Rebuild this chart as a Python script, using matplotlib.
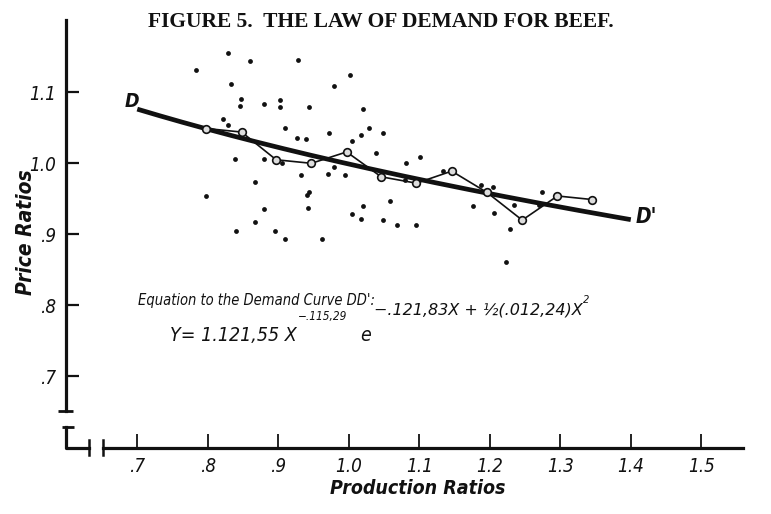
import numpy as np
import matplotlib
matplotlib.use('Agg')
import matplotlib.pyplot as plt

# yearly observations (production ratio, price ratio)
production = [0.829, 0.860, 0.928, 0.783, 1.002, 0.833, 0.979, 0.847, 0.846, 0.880,
              0.903, 0.903, 0.944, 1.020, 0.822, 0.829, 0.909, 1.028, 1.049, 0.972,
              1.018, 0.927, 0.940, 1.004, 1.038, 0.839, 0.880, 0.905, 0.932, 0.971,
              0.994, 0.979, 0.867, 0.797, 0.944, 0.941, 1.059, 1.020, 0.880, 0.942,
              1.004, 1.018, 1.048, 1.068, 0.867, 0.840, 0.895, 0.910, 0.962, 1.081,
              1.101, 1.080, 1.133, 1.188, 1.204, 1.096, 1.176, 1.206, 1.235, 1.274,
              1.270, 1.228, 1.223]
price = [1.156, 1.144, 1.146, 1.132, 1.124, 1.111, 1.109, 1.090, 1.081, 1.083,
         1.089, 1.079, 1.079, 1.077, 1.062, 1.054, 1.050, 1.050, 1.043, 1.042,
         1.040, 1.036, 1.034, 1.032, 1.015, 1.006, 1.006, 1.001, 0.983, 0.985,
         0.984, 0.995, 0.974, 0.954, 0.959, 0.956, 0.947, 0.940, 0.936, 0.937,
         0.929, 0.922, 0.920, 0.913, 0.918, 0.905, 0.905, 0.894, 0.893, 1.001,
         1.009, 0.976, 0.989, 0.969, 0.966, 0.913, 0.940, 0.930, 0.941, 0.959,
         0.941, 0.908, 0.861]

# averages joined by the thin broken line
avg_production = [0.798, 0.848, 0.897, 0.947, 0.997, 1.046, 1.096, 1.146, 1.196, 1.246, 1.296, 1.345]
avg_price = [1.049, 1.044, 1.005, 1.000, 1.016, 0.981, 0.972, 0.989, 0.959, 0.920, 0.954, 0.949]

# Demand curve DD': Y = a X^b e^(c X + 1/2 d X^2), coefficients as printed
coef_a = 1.12155
coef_b = -0.11529
coef_c = -0.12183
coef_d = 0.01224
curve_start, curve_end = 0.70, 1.40

x_ticks = [0.7, 0.8, 0.9, 1.0, 1.1, 1.2, 1.3, 1.4, 1.5]
x_tick_labels = ['.7', '.8', '.9', '1.0', '1.1', '1.2', '1.3', '1.4', '1.5']
y_ticks = [0.7, 0.8, 0.9, 1.0, 1.1]
y_tick_labels = ['.7', '.8', '.9', '1.0', '1.1']

plt.rcParams['font.family'] = ['DejaVu Sans']
ink = '#111111'
hand = dict(fontstyle='italic', fontstretch='condensed', color=ink)

fig = plt.figure(figsize=(7.71, 5.14), dpi=100)
ax = fig.add_axes([0, 0, 1, 1])
ax.set_xlim(0.5053, 1.5989)
ax.set_ylim(0.5061, 1.2300)

# axes drawn as separate broken lines like the engraving
y_axis_x = 0.599
x_axis_y = 0.5986
for side in ['top', 'right']:
    ax.spines[side].set_visible(False)
ax.spines['left'].set_position(('data', y_axis_x))
ax.spines['left'].set_bounds(0.651, 1.202)
ax.spines['bottom'].set_position(('data', x_axis_y))
ax.spines['bottom'].set_bounds(0.652, 1.559)
for side in ['left', 'bottom']:
    ax.spines[side].set_linewidth(2.3)
    ax.spines[side].set_color(ink)

# break marks at the corner
ax.plot([0.587, 0.6095], [0.651, 0.651], color=ink, lw=2.0, solid_capstyle='butt')
ax.plot([0.5927, 0.6102], [0.629, 0.629], color=ink, lw=2.0, solid_capstyle='butt')
ax.plot([y_axis_x, y_axis_x, 0.632], [0.629, x_axis_y, x_axis_y], color=ink, lw=2.3)
ax.plot([0.632, 0.632], [0.5893, 0.6104], color=ink, lw=1.8)
ax.plot([0.652, 0.652], [0.5893, 0.6104], color=ink, lw=1.8)

ax.set_xticks(x_ticks)
ax.set_xticklabels(x_tick_labels)
ax.set_yticks(y_ticks)
ax.set_yticklabels(y_tick_labels)
ax.tick_params(axis='x', direction='in', length=10, width=1.3, pad=6,
               labelsize=13.5, colors=ink)
ax.tick_params(axis='y', direction='in', length=9, width=1.6, pad=7,
               labelsize=13.5, colors=ink)
for lab in ax.get_xticklabels() + ax.get_yticklabels():
    lab.set_fontstyle('italic')
    lab.set_fontstretch('condensed')

ax.set_xlabel('Production Ratios', fontsize=14, fontweight='bold', **hand)
ax.xaxis.set_label_coords(418 / 771, 1 - 479 / 514)
ax.set_ylabel('Price Ratios', fontsize=15, fontweight='bold', **hand)
ax.yaxis.set_label_coords(36 / 771, 1 - 232 / 514)

# scatter of observations
ax.scatter(production, price, s=12, color=ink, linewidths=0, zorder=3)

# demand curve
cx = np.linspace(curve_start, curve_end, 200)
cy = coef_a * cx ** coef_b * np.exp(coef_c * cx + 0.5 * coef_d * cx ** 2)
ax.plot(cx, cy, color=ink, lw=3.4, solid_capstyle='butt', zorder=2)

# averages
ax.plot(avg_production, avg_price, color=ink, lw=1.2, marker='o', ms=5.5,
        mfc='#dddddd', mec=ink, mew=1.2, zorder=4)

ax.text(0.6919, 1.0868, 'D', fontsize=14, fontweight='bold',
        ha='center', va='center', **hand)
ax.text(1.4226, 0.9248, "D'", fontsize=15, fontweight='bold',
        ha='center', va='center', **hand)

# equation, pieces chained so the exponents sit after the base
ax.text(0.7011, 0.8004, "Equation to the Demand Curve DD':", fontsize=10.5,
        ha='left', va='baseline', **hand)
t_main = ax.text(0.7464, 0.7497, 'Y= 1.121,55 X', fontsize=14,
                 ha='left', va='baseline', **hand)
t_s1 = ax.annotate('\u2212.115,29', xy=(1, 0.7793), xycoords=(t_main, 'data'),
                   xytext=(1, 0), textcoords='offset points', fontsize=8.5,
                   ha='left', va='baseline', **hand)
t_e = ax.annotate('e', xy=(1, 0.7497), xycoords=(t_s1, 'data'),
                  xytext=(9, 0), textcoords='offset points', fontsize=14,
                  ha='left', va='baseline', **hand)
t_s2 = ax.annotate('\u2212.121,83X + \u00bd(.012,24)X', xy=(1, 0.7877),
                   xycoords=(t_e, 'data'), xytext=(2, 0), textcoords='offset points',
                   fontsize=11.5, ha='left', va='baseline', fontstyle='italic', color=ink)
ax.annotate('2', xy=(1, 0.8030), xycoords=(t_s2, 'data'),
            xytext=(0.5, 0), textcoords='offset points', fontsize=8,
            ha='left', va='baseline', **hand)

fig.text(381 / 771, 1 - 22 / 514, 'FIGURE 5.  THE LAW OF DEMAND FOR BEEF.',
         fontsize=15.5, fontweight='bold', family=['Liberation Serif', 'DejaVu Serif'],
         ha='center', va='center', color=ink)

fig.savefig('out.png', dpi=100, facecolor='white')
